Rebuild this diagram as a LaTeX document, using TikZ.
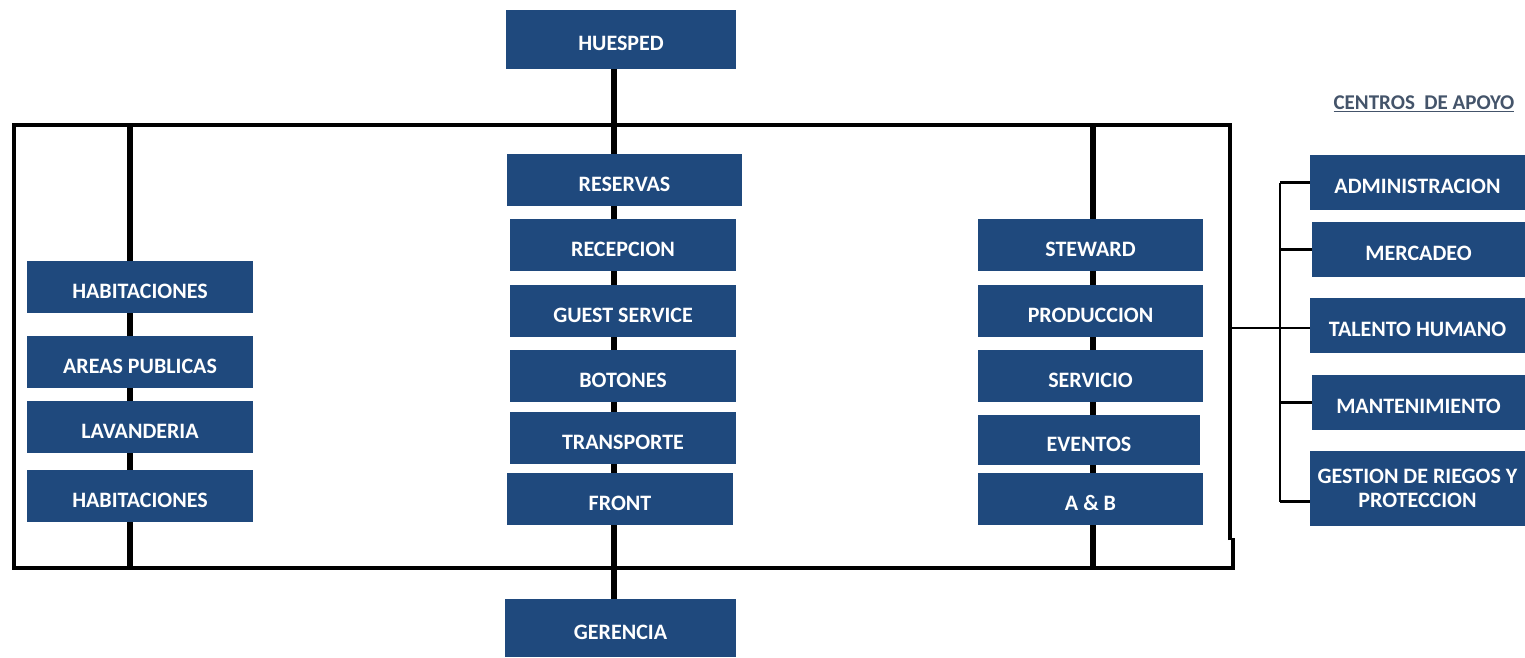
\documentclass[tikz,border=0pt]{standalone}
\usepackage{fontspec}
\setmainfont{Carlito}
\usetikzlibrary{backgrounds}
\definecolor{boxblue}{RGB}{31,73,125}
\definecolor{titlegray}{RGB}{68,84,106}
\tikzset{
  boxbase/.style={fill=boxblue, text=white, font=\bfseries\fontsize{22}{24}\selectfont, inner sep=0pt, align=center},
  unitbox/.style={boxbase, text height=22pt, text depth=0pt},
  frame/.style={draw=black, line width=3.5pt},
  link/.style={draw=black, line width=5.5pt},
  thinlink/.style={draw=black, line width=2.5pt},
}
\newcommand{\ubox}[6]{% name, x1, y1, x2, y2, text
  \node[unitbox, minimum width={#4-#2}, minimum height={#5-#3}] (#1) at ({(#2+#4)/2},{(#3+#5)/2}) {#6};}
\begin{document}
\begin{tikzpicture}[x=1pt,y=-1pt]
\useasboundingbox (0,0) rectangle (1525,657);
\ubox{huesped}{506}{10}{736}{69}{HUESPED}
\ubox{reservas}{507}{154}{742}{206}{RESERVAS}
\ubox{recepcion}{510}{219}{736}{271}{RECEPCION}
\ubox{guest}{510}{285}{736}{337}{GUEST SERVICE}
\ubox{botones}{510}{350}{736}{402}{BOTONES}
\ubox{transporte}{510}{412}{736}{464}{TRANSPORTE}
\ubox{front}{507}{473}{733}{525}{FRONT}
\ubox{gerencia}{505}{599}{736}{657}{GERENCIA}
\ubox{hab1}{27}{261}{253}{313}{HABITACIONES}
\ubox{areas}{27}{336}{253}{388}{AREAS PUBLICAS}
\ubox{lavanderia}{27}{401}{253}{453}{LAVANDERIA}
\ubox{hab2}{27}{470}{253}{522}{HABITACIONES}
\ubox{steward}{978}{219}{1203}{271}{STEWARD}
\ubox{produccion}{978}{285}{1203}{337}{PRODUCCION}
\ubox{servicio}{978}{350}{1203}{402}{SERVICIO}
\ubox{eventos}{978}{415}{1200}{465}{EVENTOS}
\ubox{ayb}{978}{473}{1203}{525}{A \& B}
\ubox{admin}{1310}{155}{1525}{210}{ADMINISTRACION}
\ubox{mercadeo}{1312}{222}{1525}{277}{MERCADEO}
\ubox{talento}{1310}{298}{1525}{353}{TALENTO HUMANO}
\ubox{mant}{1312}{375}{1525}{430}{MANTENIMIENTO}
\node[boxbase, minimum width=215, minimum height=75] (gestion) at (1417.5,488.5) {GESTION DE RIEGOS Y\\PROTECCION};
\node[font=\bfseries\fontsize{21}{24}\selectfont, text=titlegray, inner sep=0pt] (centros) at (1424,104) {\underline{CENTROS\ \ DE APOYO}};
\coordinate (tl) at (14,125);
\coordinate (br) at (1232,568);
\coordinate (cx) at (614,0);
\coordinate (lx) at (130,0);
\coordinate (rx) at (1093,0);
\coordinate (spine) at (1280,0);
\begin{scope}[on background layer]
  \draw[frame] (1230,540) -- (1230,125) -- (14,125) -- (14,568) -- (1233,568) -- (1233,538);
  \draw[link] (huesped.south -| cx) -- (gerencia.north -| cx);
  \draw[link] (tl -| lx) -- (br -| lx);
  \draw[link] (tl -| rx) -- (br -| rx);
  \draw[thinlink] (1230,328) coordinate (rj) -- (rj -| talento.west);
  \draw[thinlink] (admin.west -| spine) -- ([yshift=-13pt]gestion.west -| spine);
  \draw[thinlink] (admin.west -| spine) -- (admin.west);
  \draw[thinlink] (mercadeo.west -| spine) -- (mercadeo.west);
  \draw[thinlink] (mant.west -| spine) -- (mant.west);
  \draw[thinlink] ([yshift=-13pt]gestion.west -| spine) -- ([yshift=-13pt]gestion.west);
\end{scope}
\end{tikzpicture}
\end{document}
